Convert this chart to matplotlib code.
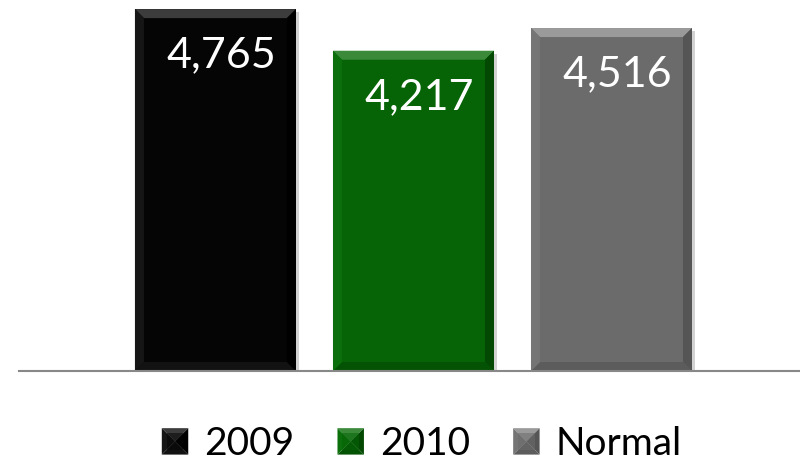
import matplotlib
matplotlib.use("Agg")
import matplotlib.pyplot as plt
from matplotlib.patches import Polygon, Rectangle
from matplotlib.legend_handler import HandlerPatch
from matplotlib.patches import Patch
import matplotlib.patheffects as pe

# ---- data ----
categories = ["2009", "2010", "Normal"]
values = [4765, 4217, 4516]
labels = ["4,765", "4,217", "4,516"]

# face / top / left / right / bottom shades for each series
face_colors = ["#050505", "#066406", "#6b6b6b"]
top_colors = ["#3c3c3c", "#3a8a3a", "#9a9a9a"]
left_colors = ["#161616", "#0b6f0b", "#757575"]
right_colors = ["#000000", "#034903", "#555555"]
bottom_colors = ["#121212", "#045204", "#5c5c5c"]

plt.rcParams["font.family"] = ["Lato", "DejaVu Sans"]

W, H = 800, 461
fig = plt.figure(figsize=(W / 100, H / 100), dpi=100)
ax = fig.add_axes([19 / W, 90 / H, 781 / W, 371 / H])

x = list(range(len(values)))
bar_w = 0.813
ax.set_xlim(-0.992, 2.952)
ax.set_ylim(0, 4885)

bars = ax.bar(x, values, width=bar_w, color=face_colors, zorder=2,
              path_effects=[pe.SimplePatchShadow(offset=(2, -2), alpha=0.35,
                                                 shadow_rgbFace="#808080"),
                            pe.Normal()])

# bevel frame around each bar, sized in pixels
bevel_px = 9
inv = ax.transData.inverted()
p0 = inv.transform((0, 0))
p1 = inv.transform((bevel_px, bevel_px))
dx, dy = p1[0] - p0[0], p1[1] - p0[1]

for i, b in enumerate(bars):
    x0 = b.get_x()
    x1 = x0 + b.get_width()
    h = b.get_height()
    polys = [
        ([(x0, h), (x1, h), (x1 - dx, h - dy), (x0 + dx, h - dy)], top_colors[i]),
        ([(x0, 0), (x1, 0), (x1 - dx, dy), (x0 + dx, dy)], bottom_colors[i]),
        ([(x0, 0), (x0, h), (x0 + dx, h - dy), (x0 + dx, dy)], left_colors[i]),
        ([(x1, 0), (x1, h), (x1 - dx, h - dy), (x1 - dx, dy)], right_colors[i]),
    ]
    for pts, c in polys:
        ax.add_patch(Polygon(pts, closed=True, facecolor=c, edgecolor="none", zorder=3))

# value labels inside the bars
label_drop = 610
for i, v in enumerate(values):
    ax.text(i + 0.03, v - label_drop, labels[i], color="white", fontsize=31,
            ha="center", va="center", zorder=4)

for s in ["top", "left", "right"]:
    ax.spines[s].set_visible(False)
ax.spines["bottom"].set_color("#888888")
ax.spines["bottom"].set_linewidth(1.5)
ax.spines["bottom"].set_zorder(5)
ax.set_xticks([])
ax.set_yticks([])
ax.patch.set_alpha(0)


class BevelHandler(HandlerPatch):
    def __init__(self, shades):
        super().__init__()
        self.shades = shades

    def create_artists(self, legend, orig_handle, xdescent, ydescent,
                       width, height, fontsize, trans):
        face, top, left, right, bottom = self.shades
        side = min(width, height)
        x0 = -xdescent + (width - side) / 2
        y0 = -ydescent + (height - side) / 2
        x1, y1 = x0 + side, y0 + side
        cx, cy = (x0 + x1) / 2, (y0 + y1) / 2
        ins = side * 0.18
        arts = [
            Polygon([(x0, y1), (x1, y1), (cx, cy)], facecolor=top),
            Polygon([(x0, y0), (x1, y0), (cx, cy)], facecolor=bottom),
            Polygon([(x0, y0), (x0, y1), (cx, cy)], facecolor=left),
            Polygon([(x1, y0), (x1, y1), (cx, cy)], facecolor=right),
            Rectangle((x0 + ins, y0 + ins), side - 2 * ins, side - 2 * ins,
                      facecolor=face, alpha=0.55),
        ]
        for a in arts:
            a.set_edgecolor("none")
            a.set_transform(trans)
        return arts


handles = [Patch(facecolor=c) for c in face_colors]
handler_map = {
    handles[i]: BevelHandler((face_colors[i], top_colors[i], left_colors[i],
                              right_colors[i], bottom_colors[i]))
    for i in range(len(handles))
}
fig.legend(handles, categories, handler_map=handler_map, loc="center",
           bbox_to_anchor=(422 / W, 1 - 444 / H), ncol=3, frameon=False,
           fontsize=28, handlelength=0.68, handleheight=0.68,
           handletextpad=0.42, columnspacing=1.1, borderpad=0, borderaxespad=0)

fig.savefig("out.png", dpi=100)
